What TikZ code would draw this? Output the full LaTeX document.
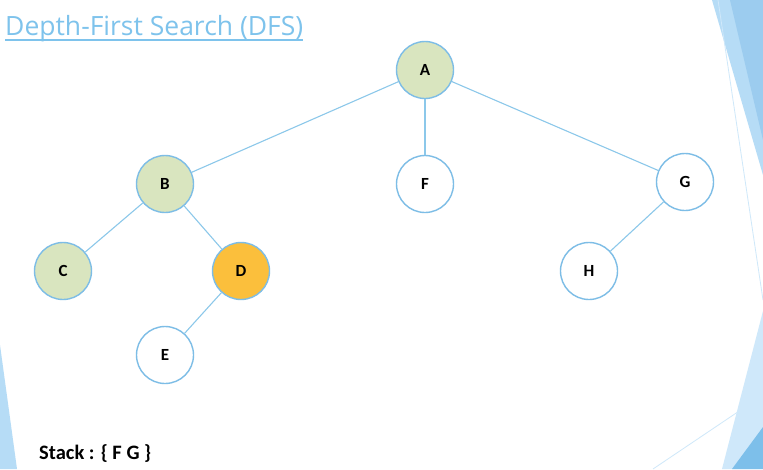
\documentclass[tikz,border=0pt]{standalone}
\usepackage{fontspec}
\setmainfont{Carlito}
\newfontfamily\titlefont{Open Sans}
\usetikzlibrary{calc}
\definecolor{edgeblue}{HTML}{8CC8EA}
\definecolor{ringblue}{HTML}{7DBDE6}
\definecolor{visited}{HTML}{D9E5BF}
\definecolor{current}{HTML}{FBBF3C}
\definecolor{titleblue}{HTML}{7EC3EC}
\definecolor{decolight}{HTML}{B6DCF6}
\definecolor{decomid}{HTML}{9CCCEF}
\definecolor{decodark}{HTML}{7DBFEA}
\definecolor{decopale}{HTML}{CFE8FA}
\tikzset{
  vertex/.style={circle, draw=ringblue, line width=1.4pt, minimum size=57pt, inner sep=0pt, fill=white, font=\bfseries\fontsize{17}{19}\selectfont},
  seen/.style={fill=visited},
  now/.style={fill=current},
  link/.style={draw=edgeblue, line width=1.1pt}
}
\begin{document}
\begin{tikzpicture}[x=1pt,y=-1pt]
\useasboundingbox (0,0) rectangle (763,469);
\fill[white] (0,0) rectangle (763,469);
% decorations
\fill[decolight] (712,0) -- (763,0) -- (763,175) -- cycle;
\fill[decomid] (730,0) -- (763,0) -- (763,140) -- cycle;
\draw[decopale, line width=0.8pt] (718,0) -- (763,300);
\fill[decopale] (763,311) -- (763,469) -- (722,469) -- cycle;
\fill[decodark] (763,427) -- (763,469) -- (732,469) -- cycle;
\draw[decopale, line width=0.8pt] (653,469) -- (763,395);
\fill[decolight] (0,345) -- (17,469) -- (0,469) -- cycle;
% title
\node[anchor=base west, inner sep=0pt, text=titleblue, font=\titlefont\fontsize{26.5}{30}\selectfont] (title) at (5,35) {Depth-First Search (DFS)};
\draw[titleblue, line width=1.2pt] (title.base west) ++(0,5) -- ($(title.base east)+(0,5)$);
% nodes
\node[vertex, seen] (A) at (425,70) {A};
\node[vertex, seen] (B) at (165,184) {B};
\node[vertex] (F) at (425,184) {F};
\node[vertex] (G) at (685,182) {G};
\node[vertex, seen] (C) at (63,271) {C};
\node[vertex, now] (D) at (241,271) {D};
\node[vertex] (H) at (589,271) {H};
\node[vertex] (E) at (165,355) {E};
% edges
\draw[link] (A) -- (B);
\draw[link] (A) -- (F);
\draw[link] (A) -- (G);
\draw[link] (B) -- (C);
\draw[link] (B) -- (D);
\draw[link] (D) -- (E);
\draw[link] (G) -- (H);
% stack
\node[anchor=base west, inner sep=0pt, font=\bfseries\fontsize{20.5}{24}\selectfont] (stack) at (39,459) {Stack : \{ F G \}};
\end{tikzpicture}
\end{document}
